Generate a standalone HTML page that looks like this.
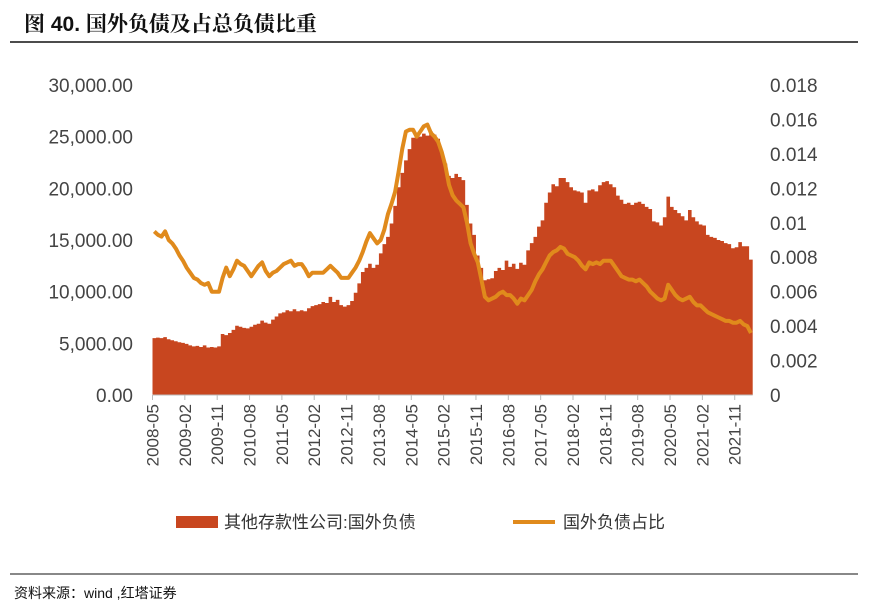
<!DOCTYPE html>
<html><head><meta charset="utf-8"><style>
body{margin:0;background:#fff;width:882px;height:610px;overflow:hidden;font-family:"Liberation Sans","Noto Sans CJK SC",sans-serif;}
svg{position:absolute;left:0;top:0}
</style></head><body>
<svg id="c" width="882" height="610">
<text x="24" y="31" font-size="21" font-weight="bold" fill="#111" font-family="'Liberation Sans','Noto Serif CJK SC',serif">图 40. 国外负债及占总负债比重</text>
<line x1="10" y1="42" x2="858" y2="42" stroke="#111" stroke-width="1.5"/>
<line x1="10" y1="574" x2="858" y2="574" stroke="#111" stroke-width="1"/>
<text x="14" y="598" font-size="14" fill="#111">资料来源：wind ,红塔证券</text>
<g id="plot"></g>
<rect x="176" y="516" width="42" height="12" fill="#c8461f"/>
<text x="224" y="528" font-size="17" fill="#333">其他存款性公司:国外负债</text>
<line x1="513" y1="522" x2="555" y2="522" stroke="#e08a1c" stroke-width="4"/>
<text x="563" y="528" font-size="17" fill="#333">国外负债占比</text>
</svg>
<script>
const liabilities=[5500,5550,5500,5600,5400,5300,5200,5100,5050,4950,4800,4700,4750,4650,4800,4600,4650,4600,4700,5900,5800,6000,6300,6700,6600,6500,6450,6600,6800,6900,7200,7000,6900,7300,7600,7900,8000,8200,8100,8300,8100,8200,8100,8400,8600,8700,8800,9000,8900,9500,9000,9200,8700,8550,8700,9100,9900,10800,11900,12300,12700,12300,12600,13700,14600,15300,16600,18300,20100,21500,22700,23800,24900,25100,25000,25300,25100,25500,25200,24800,23500,22400,21200,21000,21400,21100,20800,18400,16600,15500,13500,12300,11100,11200,11300,12000,12300,12100,13000,12400,12700,12200,12800,12600,14000,14700,15300,16300,16900,18600,19600,20400,20200,21000,21000,20600,20100,19800,19700,19600,18600,19800,19900,19700,20300,20600,20700,20400,20100,19300,18900,18500,18600,18400,18600,18700,18500,18200,18000,16800,16700,16400,17200,19200,18200,17900,17600,17300,16900,17900,17200,16800,16500,16400,15500,15300,15200,15000,14900,14700,14600,14200,14300,14800,14400,14400,13100];
const ratio=[0.0095,0.0093,0.0092,0.0095,0.0090,0.0088,0.0085,0.0081,0.0078,0.0074,0.0071,0.0068,0.0067,0.0065,0.0064,0.0065,0.0060,0.0060,0.0060,0.0068,0.0074,0.0069,0.0073,0.0078,0.0076,0.0075,0.0072,0.0069,0.0072,0.0075,0.0077,0.0072,0.0069,0.0071,0.0072,0.0074,0.0076,0.0077,0.0078,0.0075,0.0076,0.0076,0.0073,0.0069,0.0071,0.0071,0.0071,0.0071,0.0073,0.0075,0.0073,0.0071,0.0068,0.0068,0.0068,0.0071,0.0074,0.0078,0.0083,0.0089,0.0094,0.0091,0.0088,0.0090,0.0096,0.0105,0.0111,0.0118,0.0130,0.0143,0.0153,0.0154,0.0154,0.0150,0.0153,0.0156,0.0157,0.0152,0.0150,0.0147,0.0141,0.0133,0.0122,0.0116,0.0113,0.0111,0.0109,0.0100,0.0088,0.0082,0.0077,0.0067,0.0057,0.0055,0.0056,0.0057,0.0059,0.0060,0.0058,0.0058,0.0056,0.0053,0.0056,0.0055,0.0058,0.0061,0.0066,0.0070,0.0073,0.0077,0.0081,0.0083,0.0084,0.0086,0.0085,0.0082,0.0081,0.0080,0.0078,0.0075,0.0073,0.0077,0.0076,0.0077,0.0076,0.0078,0.0078,0.0078,0.0075,0.0072,0.0069,0.0068,0.0067,0.0067,0.0066,0.0067,0.0065,0.0063,0.0060,0.0058,0.0056,0.0055,0.0056,0.0064,0.0061,0.0058,0.0056,0.0055,0.0056,0.0057,0.0054,0.0052,0.0052,0.0050,0.0048,0.0047,0.0046,0.0045,0.0044,0.0043,0.0043,0.0042,0.0042,0.0043,0.0041,0.0040,0.0036];
const leftTicks=[0,5000,10000,15000,20000,25000,30000];
const leftTickLabels=["0.00","5,000.00","10,000.00","15,000.00","20,000.00","25,000.00","30,000.00"];
const rightTicks=[0,0.002,0.004,0.006,0.008,0.01,0.012,0.014,0.016,0.018];
const rightTickLabels=["0","0.002","0.004","0.006","0.008","0.01","0.012","0.014","0.016","0.018"];
const xLabels=["2008-05","2009-02","2009-11","2010-08","2011-05","2012-02","2012-11","2013-08","2014-05","2015-02","2015-11","2016-08","2017-05","2018-02","2018-11","2019-08","2020-05","2021-02","2021-11"];
const xLabelStep=9;

const NS="http://www.w3.org/2000/svg";
const g=document.getElementById('plot');
const X0=152.5,X1=752.7,Y0=395,Y1=85;
const n=liabilities.length, bw=(X1-X0)/n;
const xs=i=>X0+i*bw;
const yl=v=>Y0-(v/30000)*(Y0-Y1);
const yr=v=>Y0-(v/0.018)*(Y0-Y1);
function mk(t,a){const e=document.createElementNS(NS,t);for(const k in a)e.setAttribute(k,a[k]);g.appendChild(e);return e;}
// bars as one area path
let d="M"+xs(0)+","+Y0;
liabilities.forEach((v,i)=>{d+=" L"+xs(i)+","+yl(v)+" L"+xs(i+1)+","+yl(v);});
d+=" L"+xs(n)+","+Y0+" Z";
const area=mk('path',{d:d,fill:'#c8461f'});


// axis line
const ax=mk('line',{x1:X0,y1:Y0,x2:X1,y2:Y0,stroke:'#bbb','stroke-width':1});


// line
let p="";
ratio.forEach((v,i)=>{p+=(i?" L":"M")+(xs(i)+bw/2).toFixed(1)+","+yr(v).toFixed(1);});
const ln=mk('path',{d:p,fill:'none',stroke:'#e08a1c','stroke-width':4,'stroke-linejoin':'round'});


leftTicks.forEach((v,i)=>{
 const t=mk('text',{x:133,y:yl(v)+7,'text-anchor':'end','font-size':19,fill:'#444'});
 t.textContent=leftTickLabels[i];
 
 
});
rightTicks.forEach((v,i)=>{
 const t=mk('text',{x:770,y:yr(v)+7,'font-size':19,fill:'#444'});
 t.textContent=rightTickLabels[i];
 
 
});
xLabels.forEach((s,k)=>{
 const x=xs(k*xLabelStep);
 const tk=mk('line',{x1:x,y1:Y0,x2:x,y2:Y0+5,stroke:'#bbb'});
 
 
 const t=mk('text',{x:0,y:0,'text-anchor':'end','font-size':17,fill:'#444',transform:`translate(${x+6},404) rotate(-90)`});
 t.textContent=s;
 
 
});
</script>
</body></html>
